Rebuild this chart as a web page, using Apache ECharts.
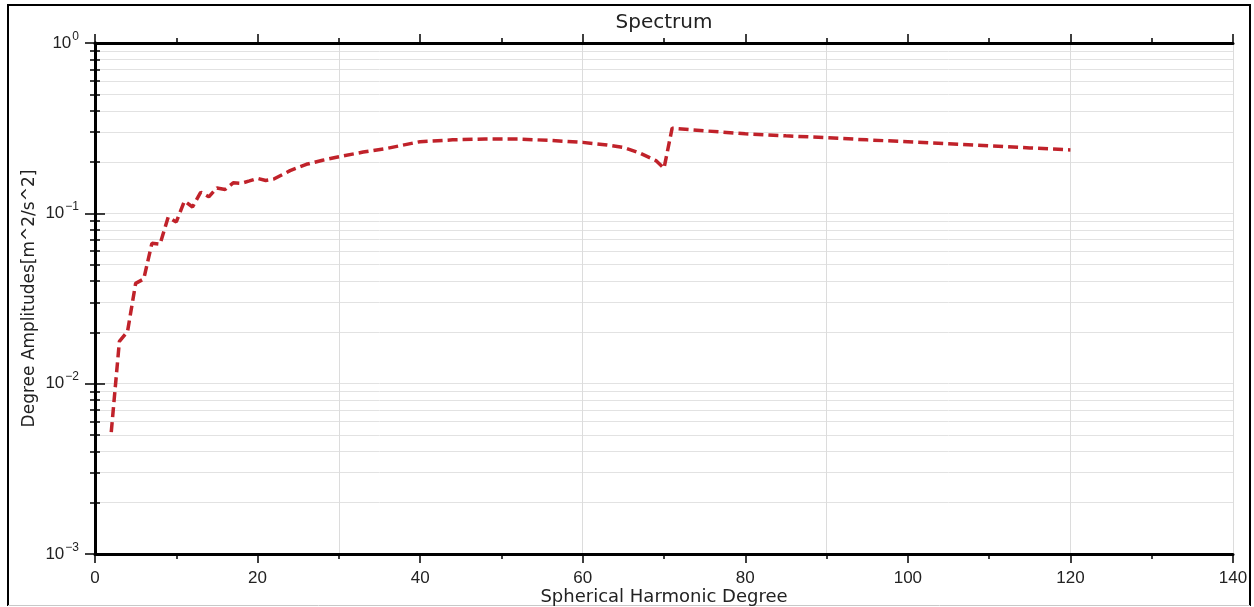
<html>
<head>
    <script src="https://cdn.jsdelivr.net/npm/echarts@6/dist/echarts.min.js"></script>
</head>
<body style="margin:0">
    <div id="main" style="width:1254px;height:607px;"></div>
<script type="text/javascript">
    // spherical harmonic degree and degree amplitude
    var degrees = [2, 3, 4, 5, 6, 7, 8, 9, 10, 11, 12, 13, 14, 15, 16, 17, 18, 19, 20, 21, 22,
        24, 26, 28, 30, 33, 36, 40, 44, 48, 52, 56, 60, 63, 65, 67, 69, 70,
        71, 75, 80, 85, 90, 95, 100, 105, 110, 115, 120];
    var amplitudes = [0.0052, 0.0177, 0.0202, 0.0388, 0.0412, 0.0667, 0.0658, 0.095, 0.089, 0.118, 0.109, 0.133, 0.125, 0.141, 0.138, 0.151, 0.150, 0.155, 0.1605, 0.156, 0.159,
        0.178, 0.194, 0.205, 0.215, 0.229, 0.241, 0.2635, 0.27, 0.273, 0.273, 0.268, 0.261, 0.252, 0.244, 0.226, 0.204, 0.1837,
        0.316, 0.305, 0.293, 0.285, 0.278, 0.27, 0.263, 0.256, 0.249, 0.242, 0.2355];
    var xMin = 0, xMax = 140, xStep = 20, gridStep = 30;
    var yMin = 0.001, yMax = 1;

    var data = degrees.map(function (d, i) { return [d, amplitudes[i]]; });

    var font = '"Liberation Sans", Arial, Helvetica, sans-serif';
    var wide = '"DejaVu Sans", sans-serif';
    var black = { color: '#000', width: 3 };
    var tick = { color: '#000', width: 1.5 };

    function powLabel(v) {
        var e = Math.round(Math.log10(v));
        var s = e < 0 ? '\u2212' + (-e) : String(e);
        return '{b|10}{s|' + s + '}';
    }

    var chart = echarts.init(document.getElementById('main'));
    var option = {
        animation: false,
        title: {
            text: 'Spectrum',
            left: 664,
            textAlign: 'center',
            top: 3,
            padding: 0,
            textStyle: { fontFamily: wide, fontSize: 20, fontWeight: 'normal', color: '#222' }
        },
        grid: { left: 95, right: 21, top: 43, bottom: 53, containLabel: false, outerBoundsMode: 'none' },
        xAxis: [{
            type: 'value', position: 'bottom', min: xMin, max: xMax, interval: xStep,
            axisLine: { lineStyle: black },
            axisTick: { length: 9, lineStyle: tick },
            minorTick: { show: true, splitNumber: 2, length: 5, lineStyle: tick },
            splitLine: { show: false },
            axisLabel: { fontFamily: font, fontSize: 17, color: '#222', margin: 10 },
            name: 'Spherical Harmonic Degree', nameLocation: 'middle', nameGap: 25,
            nameMoveOverlap: false,
            nameTextStyle: { fontFamily: wide, fontSize: 18, color: '#222' }
        }, {
            type: 'value', position: 'top', min: xMin, max: xMax, interval: xStep,
            axisLine: { lineStyle: black },
            axisTick: { length: 9, lineStyle: tick },
            minorTick: { show: true, splitNumber: 2, length: 5, lineStyle: tick },
            splitLine: { show: false },
            axisLabel: { show: false }
        }, {
            type: 'value', position: 'bottom', min: xMin, max: xMax, interval: gridStep,
            axisLine: { show: false }, axisTick: { show: false }, axisLabel: { show: false },
            splitLine: { show: true, lineStyle: { color: '#dcdcdc', width: 1 } }
        }],
        yAxis: [{
            type: 'log', logBase: 10, position: 'left', min: yMin, max: yMax,
            axisLine: { lineStyle: black },
            axisTick: { length: 10, lineStyle: tick },
            minorTick: { show: true, splitNumber: 9, length: 5, lineStyle: tick },
            splitLine: { show: true, lineStyle: { color: '#e2e2e2', width: 1 } },
            minorSplitLine: { show: true, lineStyle: { color: '#e2e2e2', width: 1 } },
            axisLabel: {
                formatter: powLabel, margin: 16,
                rich: {
                    b: { fontFamily: font, fontSize: 17, color: '#222' },
                    s: { fontFamily: font, fontSize: 12, color: '#222', padding: [0, 0, 13, 1] }
                }
            },
            name: 'Degree Amplitudes[m^2/s^2]', nameLocation: 'middle', nameGap: 49,
            nameMoveOverlap: false,
            nameTextStyle: { fontFamily: wide, fontSize: 17, color: '#222' }
        }, {
            type: 'log', logBase: 10, position: 'right', min: yMin, max: yMax,
            axisLine: { lineStyle: black },
            axisTick: { length: 10, lineStyle: tick },
            minorTick: { show: true, splitNumber: 9, length: 5, lineStyle: tick },
            splitLine: { show: false },
            axisLabel: { show: false }
        }],
        graphic: [{
            type: 'polyline', silent: true,
            shape: { points: [[8, 606], [8, 5], [1250, 5], [1250, 606]] },
            style: { stroke: '#000', lineWidth: 2, fill: null }
        }, {
            type: 'line', silent: true,
            shape: { x1: 8, y1: 605.5, x2: 1250, y2: 605.5 },
            style: { stroke: '#c8c8c8', lineWidth: 1 }
        }],
        series: [{
            type: 'line',
            xAxisIndex: 0, yAxisIndex: 0,
            data: data,
            showSymbol: false,
            lineStyle: { color: '#c0222a', width: 3.5, type: [10, 5] }
        }]
    };
    chart.setOption(option);
</script>
</body>
</html>
